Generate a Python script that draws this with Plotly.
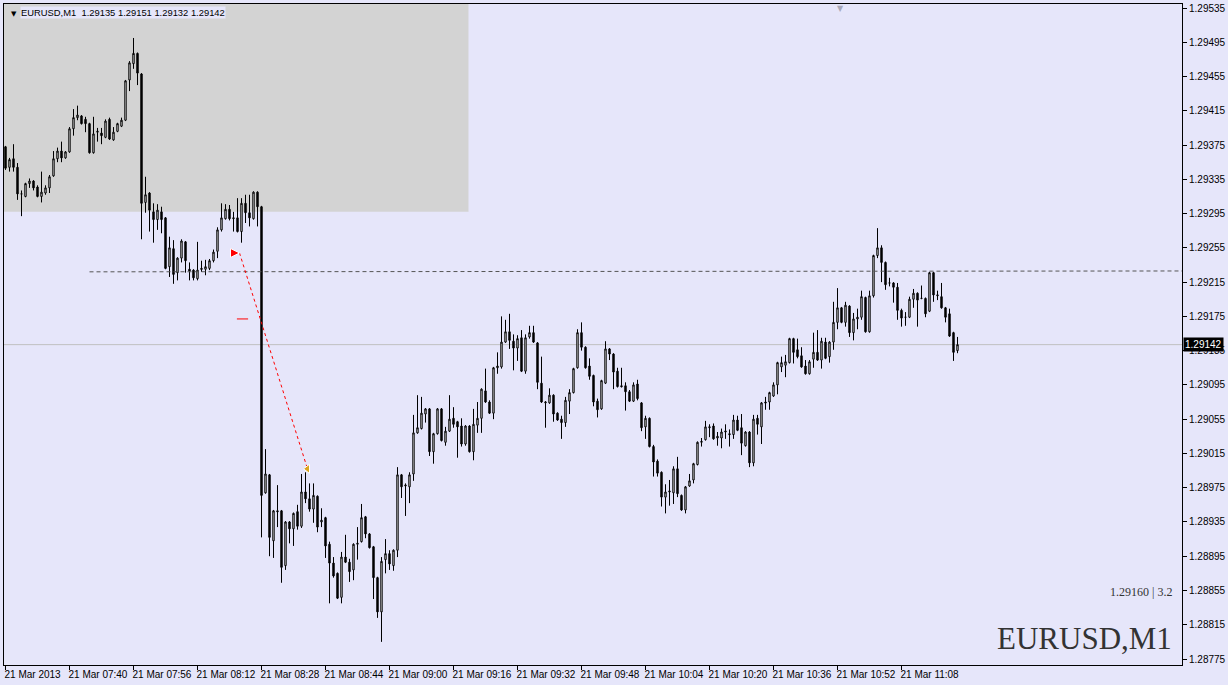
import plotly.graph_objects as go

# ---------------- data ----------------
# candle index 0 = 21 Mar 2013 07:24, one candle per minute
opens = [1.29373,1.29349,1.29359,1.29349,1.29318,1.29315,1.29330,1.29333,1.29326,1.29315,
         1.29319,1.29325,1.29339,1.29359,1.29368,1.29360,1.29367,1.29394,1.29407,1.29409,
         1.29405,1.29400,1.29366,1.29390,1.29389,1.29384,1.29405,1.29381,1.29391,1.29397,
         1.29404,1.29451,1.29470,1.29482,1.29458,1.29308,1.29319,1.29297,1.29288,1.29297,
         1.29290,1.29233,1.29254,1.29226,1.29243,1.29262,1.29230,1.29229,1.29219,1.29231,
         1.29230,1.29231,1.29240,1.29251,1.29276,1.29289,1.29300,1.29289,1.29290,1.29274,
         1.29307,1.29296,1.29289,1.29320,1.29303,1.28969,1.28990,1.28913,1.28948,1.28948,
         1.28884,1.28935,1.28927,1.28947,1.28930,1.28970,1.28962,1.28950,1.28965,1.28935,
         1.28940,1.28909,1.28887,1.28875,1.28847,1.28894,1.28888,1.28879,1.28909,1.28912,
         1.28941,1.28921,1.28906,1.28870,1.28830,1.28891,1.28898,1.28884,1.28902,1.28990,
         1.28977,1.28976,1.28991,1.29039,1.29044,1.29061,1.29067,1.29017,1.29038,1.29067,
         1.29028,1.29041,1.29056,1.29052,1.29047,1.29026,1.29047,1.29017,1.29048,1.29056,
         1.29088,1.29075,1.29062,1.29115,1.29116,1.29145,1.29157,1.29146,1.29138,1.29150,
         1.29111,1.29151,1.29156,1.29144,1.29097,1.29074,1.29074,1.29083,1.29062,1.29055,
         1.29051,1.29076,1.29086,1.29115,1.29156,1.29139,1.29117,1.29106,1.29076,1.29067,
         1.29097,1.29137,1.29131,1.29111,1.29094,1.29094,1.29087,1.29076,1.29096,1.29074,
         1.29046,1.29056,1.29023,1.29006,1.28993,1.28964,1.28970,1.28969,1.28997,1.28966,
         1.28949,1.28977,1.28984,1.29002,1.29028,1.29031,1.29045,1.29047,1.29033,1.29033,
         1.29040,1.29038,1.29037,1.29054,1.29045,1.29024,1.29040,1.29004,1.29056,1.29046,
         1.29075,1.29075,1.29082,1.29095,1.29116,1.29118,1.29121,1.29149,1.29136,1.29129,
         1.29117,1.29108,1.29125,1.29133,1.29124,1.29145,1.29128,1.29145,1.29168,1.29185,
         1.29168,1.29187,1.29156,1.29172,1.29174,1.29197,1.29157,1.29199,1.29246,1.29255,
         1.29238,1.29214,1.29214,1.29209,1.29182,1.29174,1.29174,1.29195,1.29202,1.29196,
         1.29196,1.29181,1.29226,1.29199,1.29198,1.29185,1.29178,1.29156,1.29135]
highs = [1.29374,1.29360,1.29376,1.29354,1.29322,1.29331,1.29336,1.29334,1.29328,1.29344,
         1.29328,1.29340,1.29368,1.29372,1.29379,1.29368,1.29396,1.29417,1.29421,1.29410,
         1.29408,1.29401,1.29408,1.29395,1.29395,1.29405,1.29407,1.29396,1.29401,1.29407,
         1.29451,1.29473,1.29500,1.29483,1.29459,1.29338,1.29320,1.29307,1.29306,1.29303,
         1.29291,1.29268,1.29264,1.29244,1.29265,1.29263,1.29238,1.29230,1.29262,1.29240,
         1.29241,1.29242,1.29253,1.29279,1.29307,1.29306,1.29305,1.29297,1.29313,1.29313,
         1.29317,1.29317,1.29321,1.29321,1.29304,1.29020,1.28991,1.28949,1.28978,1.28949,
         1.28936,1.28936,1.28946,1.28955,1.28991,1.28993,1.28980,1.28980,1.28966,1.28951,
         1.28941,1.28912,1.28894,1.28876,1.28900,1.28920,1.28892,1.28910,1.28929,1.28956,
         1.28942,1.28922,1.28907,1.28871,1.28894,1.28915,1.28902,1.28903,1.28999,1.28991,
         1.28980,1.28993,1.29060,1.29083,1.29081,1.29068,1.29068,1.29039,1.29068,1.29068,
         1.29046,1.29083,1.29069,1.29053,1.29056,1.29048,1.29048,1.29067,1.29075,1.29091,
         1.29114,1.29077,1.29116,1.29133,1.29175,1.29171,1.29178,1.29154,1.29153,1.29159,
         1.29154,1.29164,1.29164,1.29145,1.29128,1.29076,1.29091,1.29084,1.29063,1.29059,
         1.29081,1.29090,1.29115,1.29160,1.29168,1.29140,1.29126,1.29107,1.29079,1.29101,
         1.29146,1.29138,1.29132,1.29115,1.29115,1.29098,1.29089,1.29098,1.29101,1.29075,
         1.29059,1.29057,1.29025,1.29008,1.28994,1.28979,1.28984,1.29000,1.29011,1.28967,
         1.28977,1.28991,1.29004,1.29029,1.29033,1.29053,1.29049,1.29050,1.29040,1.29044,
         1.29049,1.29043,1.29060,1.29059,1.29061,1.29041,1.29041,1.29060,1.29060,1.29075,
         1.29081,1.29087,1.29098,1.29122,1.29128,1.29130,1.29150,1.29150,1.29149,1.29139,
         1.29124,1.29124,1.29156,1.29159,1.29150,1.29150,1.29146,1.29192,1.29208,1.29186,
         1.29192,1.29188,1.29179,1.29184,1.29205,1.29198,1.29205,1.29247,1.29278,1.29258,
         1.29239,1.29220,1.29215,1.29214,1.29184,1.29180,1.29198,1.29207,1.29203,1.29211,
         1.29197,1.29227,1.29227,1.29205,1.29214,1.29186,1.29184,1.29157,1.29151]
lows = [1.29346,1.29344,1.29344,1.29311,1.29292,1.29314,1.29325,1.29322,1.29314,1.29308,
        1.29317,1.29319,1.29338,1.29355,1.29355,1.29359,1.29366,1.29386,1.29404,1.29399,
        1.29390,1.29365,1.29365,1.29379,1.29376,1.29383,1.29381,1.29380,1.29390,1.29396,
        1.29403,1.29438,1.29464,1.29445,1.29265,1.29296,1.29274,1.29261,1.29276,1.29272,
        1.29230,1.29221,1.29213,1.29217,1.29238,1.29226,1.29217,1.29217,1.29217,1.29227,
        1.29223,1.29229,1.29238,1.29243,1.29274,1.29288,1.29287,1.29274,1.29273,1.29261,
        1.29284,1.29280,1.29288,1.29280,1.28917,1.28968,1.28895,1.28893,1.28929,1.28864,
        1.28879,1.28910,1.28907,1.28926,1.28928,1.28957,1.28947,1.28934,1.28923,1.28929,
        1.28893,1.28840,1.28870,1.28845,1.28840,1.28887,1.28865,1.28867,1.28891,1.28911,
        1.28916,1.28904,1.28845,1.28823,1.28795,1.28875,1.28879,1.28878,1.28894,1.28963,
        1.28942,1.28957,1.28983,1.29038,1.29043,1.29051,1.29012,1.29003,1.29037,1.29029,
        1.29024,1.29040,1.29045,1.29010,1.29023,1.29024,1.29016,1.29007,1.29039,1.29039,
        1.29074,1.29061,1.29055,1.29108,1.29114,1.29144,1.29137,1.29112,1.29123,1.29110,
        1.29108,1.29149,1.29144,1.29090,1.29074,1.29045,1.29073,1.29052,1.29053,1.29032,
        1.29046,1.29061,1.29085,1.29114,1.29135,1.29114,1.29101,1.29070,1.29057,1.29066,
        1.29096,1.29124,1.29090,1.29092,1.29092,1.29065,1.29075,1.29075,1.29077,1.29041,
        1.29032,1.29022,1.28988,1.28988,1.28953,1.28945,1.28954,1.28956,1.28964,1.28948,
        1.28945,1.28976,1.28980,1.29001,1.29023,1.29030,1.29034,1.29031,1.29024,1.29021,
        1.29032,1.29023,1.29032,1.29041,1.29013,1.29023,1.28999,1.29000,1.29037,1.29026,
        1.29066,1.29066,1.29081,1.29084,1.29110,1.29104,1.29120,1.29120,1.29126,1.29115,
        1.29107,1.29107,1.29115,1.29123,1.29114,1.29125,1.29121,1.29136,1.29160,1.29167,
        1.29163,1.29151,1.29147,1.29160,1.29171,1.29156,1.29156,1.29197,1.29243,1.29215,
        1.29206,1.29210,1.29191,1.29171,1.29163,1.29164,1.29173,1.29185,1.29163,1.29195,
        1.29174,1.29180,1.29192,1.29194,1.29184,1.29168,1.29151,1.29123,1.29132]
closes = [1.29348,1.29358,1.29349,1.29318,1.29318,1.29330,1.29333,1.29325,1.29315,1.29320,
          1.29325,1.29338,1.29359,1.29368,1.29360,1.29367,1.29394,1.29407,1.29410,1.29400,
          1.29400,1.29366,1.29388,1.29391,1.29386,1.29403,1.29382,1.29390,1.29400,1.29404,
          1.29450,1.29471,1.29482,1.29459,1.29307,1.29317,1.29299,1.29288,1.29299,1.29288,
          1.29231,1.29255,1.29224,1.29243,1.29263,1.29240,1.29228,1.29220,1.29229,1.29230,
          1.29233,1.29240,1.29250,1.29276,1.29290,1.29300,1.29289,1.29290,1.29274,1.29307,
          1.29296,1.29290,1.29320,1.29303,1.28966,1.28991,1.28917,1.28948,1.28947,1.28882,
          1.28935,1.28927,1.28945,1.28930,1.28970,1.28962,1.28950,1.28966,1.28929,1.28937,
          1.28907,1.28887,1.28872,1.28846,1.28894,1.28888,1.28877,1.28909,1.28910,1.28940,
          1.28921,1.28905,1.28870,1.28830,1.28889,1.28898,1.28886,1.28902,1.28990,1.28976,
          1.28978,1.28990,1.29039,1.29045,1.29062,1.29067,1.29017,1.29038,1.29067,1.29030,
          1.29041,1.29055,1.29049,1.29046,1.29026,1.29047,1.29017,1.29049,1.29056,1.29090,
          1.29075,1.29062,1.29115,1.29117,1.29145,1.29157,1.29147,1.29138,1.29149,1.29111,
          1.29150,1.29156,1.29145,1.29098,1.29075,1.29075,1.29083,1.29061,1.29054,1.29051,
          1.29077,1.29086,1.29114,1.29156,1.29139,1.29115,1.29105,1.29075,1.29066,1.29100,
          1.29137,1.29131,1.29110,1.29093,1.29093,1.29087,1.29076,1.29095,1.29079,1.29045,
          1.29056,1.29023,1.29005,1.28992,1.28964,1.28970,1.28971,1.28997,1.28968,1.28949,
          1.28976,1.28983,1.29003,1.29028,1.29029,1.29046,1.29046,1.29032,1.29035,1.29040,
          1.29041,1.29037,1.29054,1.29042,1.29027,1.29040,1.29004,1.29055,1.29049,1.29074,
          1.29074,1.29086,1.29095,1.29121,1.29121,1.29122,1.29149,1.29133,1.29128,1.29116,
          1.29108,1.29122,1.29133,1.29124,1.29146,1.29126,1.29145,1.29168,1.29185,1.29168,
          1.29188,1.29156,1.29172,1.29174,1.29198,1.29157,1.29199,1.29246,1.29255,1.29238,
          1.29212,1.29214,1.29209,1.29182,1.29173,1.29174,1.29195,1.29202,1.29194,1.29196,
          1.29178,1.29226,1.29200,1.29200,1.29185,1.29174,1.29152,1.29133,1.29142]

# time axis labels (every 16 minutes, starting at candle 0)
time_tick_idx = [0, 16, 32, 48, 64, 80, 96, 112, 128, 144, 160, 176, 192, 208, 224]
time_tick_text = ["21 Mar 2013", "21 Mar 07:40", "21 Mar 07:56", "21 Mar 08:12", "21 Mar 08:28",
                  "21 Mar 08:44", "21 Mar 09:00", "21 Mar 09:16", "21 Mar 09:32", "21 Mar 09:48",
                  "21 Mar 10:04", "21 Mar 10:20", "21 Mar 10:36", "21 Mar 10:52", "21 Mar 11:08"]

# price axis labels
price_ticks = [1.28775, 1.28815, 1.28855, 1.28895, 1.28935, 1.28975, 1.29015, 1.29055,
               1.29095, 1.29135, 1.29175, 1.29215, 1.29255, 1.29295, 1.29335, 1.29375,
               1.29415, 1.29455, 1.29495, 1.29535]

bid_price = 1.29142
header_text = "EURUSD,M1  1.29135 1.29151 1.29132 1.29142"
info_text = "1.29160 | 3.2"
symbol_text = "EURUSD,M1"

# objects drawn on the chart
zone_end_idx = 115.75          # grey rectangle right edge (candle index)
zone_low_price = 1.29297       # grey rectangle bottom
trend_idx = [21, 294.25]
trend_price = [1.29227, 1.29228]
trade_idx = [58.5, 75.5]
trade_price = [1.29249, 1.28997]
stop_idx = [59.25]
stop_price = [1.29172]

# ---------------- figure ----------------
x_idx = list(range(len(opens)))
X_MIN, X_MAX = -0.375, 294.125
Y_MIN, Y_MAX = 1.28768, 1.2953967
BG = "#E6E6FA"
PLOT_W = 1178

fig = go.Figure()

fig.add_trace(go.Candlestick(
    x=x_idx, open=opens, high=highs, low=lows, close=closes,
    increasing=dict(line=dict(color="black", width=1), fillcolor="white"),
    decreasing=dict(line=dict(color="black", width=1), fillcolor="black"),
    whiskerwidth=0, hoverinfo="skip", showlegend=False,
))

# trend line (dashed)
fig.add_trace(go.Scatter(
    x=trend_idx, y=trend_price, mode="lines",
    line=dict(color="#555555", width=1, dash="4px,3px"),
    hoverinfo="skip", showlegend=False,
))

# trade line with arrows
fig.add_trace(go.Scatter(
    x=trade_idx, y=trade_price, mode="lines",
    line=dict(color="#FF0000", width=1, dash="3px,3px"),
    hoverinfo="skip", showlegend=False,
))
fig.add_trace(go.Scatter(
    x=trade_idx[:1], y=trade_price[:1], mode="markers",
    marker=dict(symbol="arrow-right", size=9, color="#FF0000",
                line=dict(color="white", width=1)),
    hoverinfo="skip", showlegend=False,
))
fig.add_trace(go.Scatter(
    x=trade_idx[1:], y=trade_price[1:], mode="markers",
    marker=dict(symbol="triangle-left", size=8, color="#DAA520",
                line=dict(color="white", width=1)),
    hoverinfo="skip", showlegend=False,
))
fig.add_trace(go.Scatter(
    x=stop_idx, y=stop_price, mode="markers",
    marker=dict(symbol="line-ew", size=8, line=dict(color="#FF0000", width=1)),
    hoverinfo="skip", showlegend=False,
))

shapes = [
    # grey zone
    dict(type="rect", xref="x", yref="y", x0=X_MIN, x1=zone_end_idx,
         y0=zone_low_price, y1=Y_MAX, fillcolor="#D3D3D3", line=dict(width=0),
         layer="below"),
    # bid line
    dict(type="line", xref="paper", yref="y", x0=0, x1=1, y0=bid_price, y1=bid_price,
         line=dict(color="#C0C0C0", width=1), layer="below"),
]

annotations = [
    dict(xref="paper", yref="paper", x=16 / PLOT_W, y=1, yshift=-2, xanchor="left",
         yanchor="top", text=header_text, showarrow=False, bgcolor=BG, borderpad=0,
         font=dict(family="Liberation Sans", size=9.4, color="black")),
    dict(xref="paper", yref="paper", x=5 / PLOT_W, y=1, yshift=-4, xanchor="left",
         yanchor="top", text="▼", showarrow=False,
         font=dict(family="DejaVu Sans", size=7, color="black")),
    dict(xref="paper", yref="paper", x=836 / PLOT_W, y=1, yshift=2, xanchor="center",
         yanchor="top", text="▼", showarrow=False,
         font=dict(family="DejaVu Sans", size=8, color="#A8A8B8")),
    dict(xref="paper", yref="y", x=1170 / PLOT_W, y=1.28853, xanchor="right",
         yanchor="middle", text=info_text, showarrow=False,
         font=dict(family="Liberation Serif", size=12, color="#333333")),
    dict(xref="paper", yref="y", x=1170 / PLOT_W, y=1.28799, xanchor="right",
         yanchor="middle", text=symbol_text, showarrow=False,
         font=dict(family="Liberation Serif", size=31, color="#333333")),
    dict(xref="paper", yref="y", x=1, y=bid_price, xanchor="left", yanchor="middle",
         text=f"{bid_price:.5f}", showarrow=False, bgcolor="black", borderpad=1,
         xshift=1, font=dict(family="Liberation Sans", size=10, color="white")),
]

fig.update_layout(
    width=1228, height=685,
    margin=dict(l=4, r=46, t=4, b=20, autoexpand=False),
    paper_bgcolor=BG, plot_bgcolor=BG,
    boxgap=0.5,
    shapes=shapes, annotations=annotations,
    showlegend=False,
    font=dict(family="Liberation Sans", size=10, color="black"),
)
fig.update_xaxes(
    range=[X_MIN, X_MAX], rangeslider=dict(visible=False),
    showgrid=False, zeroline=False, automargin=False,
    showline=True, linecolor="black", linewidth=1, mirror=True,
    ticks="outside", ticklen=4, tickcolor="black", tickwidth=1,
    tickvals=time_tick_idx, ticktext=time_tick_text, tickangle=0,
    ticklabelposition="outside right", ticklabelshift=-2,
    tickfont=dict(family="Liberation Sans", size=10, color="black"),
)
fig.update_yaxes(
    range=[Y_MIN, Y_MAX], side="right",
    showgrid=False, zeroline=False, automargin=False,
    showline=True, linecolor="black", linewidth=1, mirror=True,
    ticks="outside", ticklen=4, tickcolor="black", tickwidth=1,
    tickvals=price_ticks, ticktext=[f"{p:.5f}" for p in price_ticks],
    tickfont=dict(family="Liberation Sans", size=10, color="black"),
)

fig.write_html(
    "out.html",
    config={"displayModeBar": False},
    post_script="document.body.style.margin='0';document.body.style.background='#E6E6FA';",
)
